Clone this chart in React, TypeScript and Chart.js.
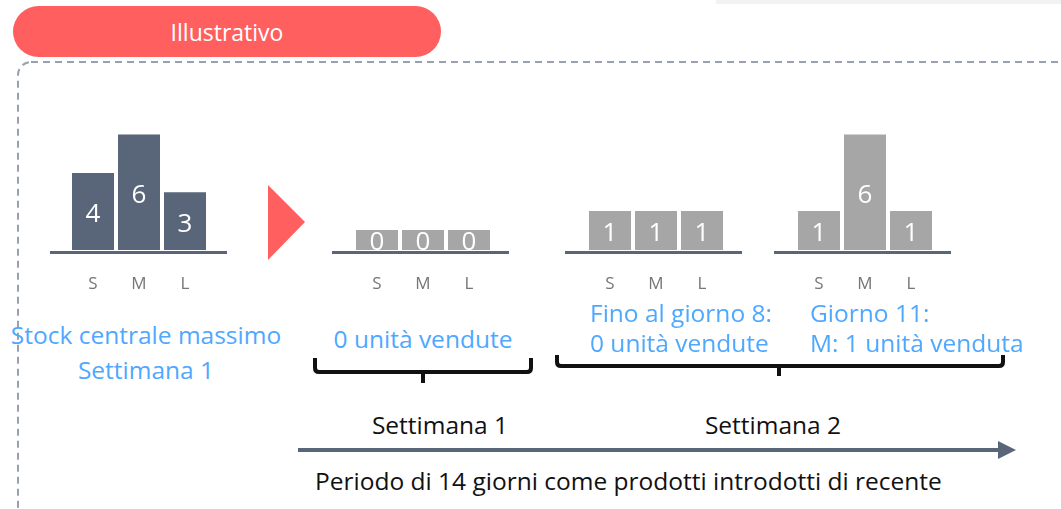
import React, { useEffect, useRef } from "react";
import { Chart, registerables } from "chart.js";

Chart.register(...registerables);

// ---- data ----
const sizeLabels = ["S", "M", "L"];
const stockMaxWeek1 = [4, 6, 3];
const soldWeek1 = [0, 0, 0];
const stockDay8 = [1, 1, 1];
const stockDay11 = [1, 6, 1];

const DARK = "#596579";
const GRAY = "#a6a6a6";
const BLUE = "#4fa8ff";
const RED = "#ff5f5f";
const FONT = "'Open Sans', Lato, sans-serif";

const baselinePlugin = {
  id: "baselineAndValues",
  afterDatasetsDraw(chart: any) {
    const { ctx, chartArea } = chart;
    ctx.save();
    ctx.strokeStyle = DARK;
    ctx.lineWidth = 3;
    ctx.beginPath();
    const y = chartArea.bottom + 2.5;
    ctx.moveTo(0, y);
    ctx.lineTo(chart.width, y);
    ctx.stroke();
    const meta = chart.getDatasetMeta(0);
    const data = chart.data.datasets[0].data;
    ctx.fillStyle = "#ffffff";
    ctx.font = `26px ${FONT}`;
    ctx.textAlign = "center";
    ctx.textBaseline = "middle";
    meta.data.forEach((bar: any, i: number) => {
      const cy = (bar.y + bar.base) / 2 + 3;
      ctx.fillText(String(data[i]), bar.x, cy);
    });
    ctx.restore();
  },
};

type MiniProps = {
  values: number[];
  color: string;
  left: number;
  padLeft: number;
  minBar?: number;
};

function MiniBars({ values, color, left, padLeft, minBar }: MiniProps) {
  const ref = useRef<HTMLCanvasElement | null>(null);
  useEffect(() => {
    if (!ref.current) return;
    const chart = new Chart(ref.current, {
      type: "bar",
      data: {
        labels: sizeLabels,
        datasets: [
          {
            data: values,
            backgroundColor: color,
            borderWidth: 0,
            barPercentage: 42 / 46,
            categoryPercentage: 1,
            minBarLength: minBar,
          },
        ],
      },
      options: {
        animation: false,
        responsive: false,
        maintainAspectRatio: false,
        events: [],
        layout: { padding: { left: padLeft, right: 177 - padLeft - 138, top: 0, bottom: 0 } },
        plugins: { legend: { display: false }, tooltip: { enabled: false } },
        scales: {
          x: {
            grid: { display: false, drawTicks: false },
            border: { display: false },
            ticks: { color: "#767676", font: { family: FONT, size: 17 }, padding: 24 },
            afterFit: (s: any) => {
              s.height = 50;
            },
          },
          y: { display: false, min: 0, max: 7.8 },
        },
      },
      plugins: [baselinePlugin],
    });
    return () => chart.destroy();
  }, []);
  return (
    <canvas
      ref={ref}
      width={177}
      height={200}
      style={{ position: "absolute", left, top: 100, width: 177, height: 200 }}
    />
  );
}

function Txt({
  children,
  x,
  cy,
  size,
  color,
  align = "center",
}: {
  children: React.ReactNode;
  x: number;
  cy: number;
  size: number;
  color: string;
  align?: "center" | "left";
}) {
  const h = 40;
  const style: React.CSSProperties = {
    position: "absolute",
    top: cy - h / 2,
    height: h,
    lineHeight: `${h}px`,
    fontSize: size,
    fontFamily: FONT,
    color,
    whiteSpace: "nowrap",
    fontVariantLigatures: "none",
  };
  if (align === "center") {
    style.left = x - 300;
    style.width = 600;
    style.textAlign = "center";
  } else {
    style.left = x;
  }
  return <div style={style}>{children}</div>;
}

export default function App() {
  return (
    <div
      style={{
        position: "absolute",
        left: 0,
        top: 0,
        width: 1061,
        height: 509,
        overflow: "hidden",
        background: "#ffffff",
      }}
    >
      <div style={{ position: "absolute", left: 716, top: 0, width: 345, height: 4, background: "#f2f2f2" }} />
      <svg width={1061} height={509} style={{ position: "absolute", left: 0, top: 0 }}>
        <rect x={18} y={62} width={1100} height={458} rx={13} fill="none" stroke="#97a1b0" strokeWidth={2} strokeDasharray="7 5" />
        <polygon points="268,185 305,222 268,260" fill={RED} />
        <path d="M315,358 L315,368 Q315,372 319,372 L527,372 Q531,372 531,368 L531,358 M423,372 L423,383" fill="none" stroke="#111" strokeWidth={4} strokeLinejoin="round" />
        <path d="M557,355 L557,362 Q557,366 561,366 L999,366 Q1003,366 1003,362 L1003,355 M779,366 L779,376" fill="none" stroke="#111" strokeWidth={4} strokeLinejoin="round" />
        <line x1={298} y1={450} x2={1000} y2={450} stroke={DARK} strokeWidth={4} />
        <polygon points="998,441 1016,450 998,459" fill={DARK} />
      </svg>
      <div
        style={{
          position: "absolute",
          left: 13,
          top: 6,
          width: 428,
          height: 51,
          borderRadius: 26,
          background: RED,
          color: "#fff",
          fontFamily: FONT,
          fontSize: 23,
          lineHeight: "52px",
          textAlign: "center",
          fontVariantLigatures: "none",
        }}
      >
        Illustrativo
      </div>

      <MiniBars values={stockMaxWeek1} color={DARK} left={50} padLeft={20} />
      <MiniBars values={soldWeek1} color={GRAY} left={332} padLeft={22} minBar={20} />
      <MiniBars values={stockDay8} color={GRAY} left={565} padLeft={22} minBar={39} />
      <MiniBars values={stockDay11} color={GRAY} left={774} padLeft={22} minBar={39} />

      <Txt x={146} cy={335} size={24.5} color={BLUE}>Stock centrale massimo</Txt>
      <Txt x={146} cy={370} size={24.5} color={BLUE}>Settimana 1</Txt>
      <Txt x={423} cy={339} size={24.5} color={BLUE}>0 unità vendute</Txt>
      <Txt x={590} cy={313} size={24.5} color={BLUE} align="left">Fino al giorno 8:</Txt>
      <Txt x={590} cy={343} size={24.5} color={BLUE} align="left">0 unità vendute</Txt>
      <Txt x={810} cy={313} size={24.5} color={BLUE} align="left">Giorno 11:</Txt>
      <Txt x={810} cy={343} size={24.5} color={BLUE} align="left">M: 1 unità venduta</Txt>

      <Txt x={440} cy={425} size={24.5} color="#111">Settimana 1</Txt>
      <Txt x={773} cy={425} size={24.5} color="#111">Settimana 2</Txt>
      <Txt x={315} cy={481} size={24.5} color="#111" align="left">Periodo di 14 giorni come prodotti introdotti di recente</Txt>
    </div>
  );
}
